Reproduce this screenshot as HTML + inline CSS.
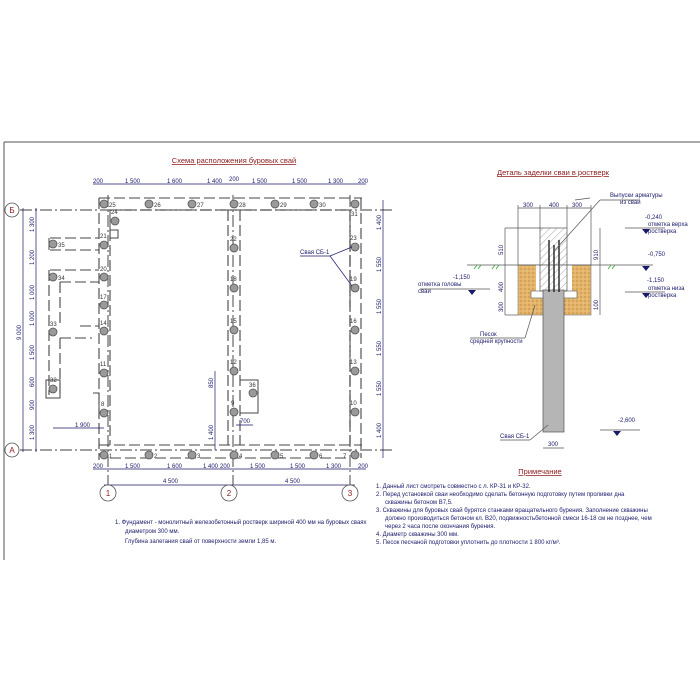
<!DOCTYPE html>
<html><head><meta charset="utf-8"><style>
body{margin:0;background:#fff;}
svg{display:block;font-family:"Liberation Sans",sans-serif;}
.t{font-size:6px;fill:#333;}
.n{font-size:6.5px;fill:#222;}
.b{font-size:6px;fill:#1a1a6a;}
</style></head><body>
<svg width="700" height="700" viewBox="0 0 700 700" xmlns="http://www.w3.org/2000/svg">
<defs>
<pattern id="h" width="5" height="5" patternUnits="userSpaceOnUse" patternTransform="rotate(45)"><line x1="0" y1="0" x2="0" y2="5" stroke="#666" stroke-width="0.6"/></pattern>
<pattern id="s" width="4" height="4" patternUnits="userSpaceOnUse"><rect width="4" height="4" fill="#e3b46a"/><circle cx="1" cy="1" r="0.6" fill="#b07a2a"/><circle cx="3" cy="3" r="0.5" fill="#f5dca8"/></pattern>
</defs>
<rect width="700" height="700" fill="#fff"/>
<!-- border -->
<line x1="4" y1="142" x2="700" y2="142" stroke="#555" stroke-width="1"/>
<line x1="4" y1="142" x2="4" y2="560" stroke="#555" stroke-width="1"/>
<!-- plan title -->
<text x="234" y="163" font-size="7.5" fill="#8b1a1a" text-anchor="middle" text-decoration="underline">Схема расположения буровых свай</text>
<!-- axes -->
<g stroke="#666" stroke-width="1.2" stroke-dasharray="12,3,2,3" fill="none">
<line x1="20" y1="210" x2="395" y2="210"/>
<line x1="20" y1="450" x2="395" y2="450"/>
<line x1="108" y1="195" x2="108" y2="485"/>
<line x1="233" y1="195" x2="233" y2="485"/>
<line x1="350" y1="195" x2="350" y2="485"/>
</g>
<!-- walls -->
<g stroke="#444" stroke-width="1.1" stroke-dasharray="11,4" fill="none">
<line x1="99" y1="198" x2="362" y2="198"/>
<line x1="110" y1="210" x2="350" y2="210"/>
<line x1="99" y1="445" x2="362" y2="445"/>
<line x1="110" y1="458" x2="350" y2="458"/>
<line x1="99" y1="198" x2="99" y2="460"/>
<line x1="110" y1="230" x2="110" y2="445"/>
<line x1="228" y1="210" x2="228" y2="445"/>
<line x1="240" y1="210" x2="240" y2="445"/>
<line x1="350" y1="210" x2="350" y2="445"/>
<line x1="361" y1="198" x2="361" y2="458"/>
<line x1="50" y1="238" x2="99" y2="238"/>
<line x1="50" y1="250" x2="99" y2="250"/>
<line x1="50" y1="270" x2="99" y2="270"/>
<line x1="60" y1="282" x2="99" y2="282"/>
<line x1="49" y1="270" x2="49" y2="395"/>
<line x1="60" y1="282" x2="60" y2="326"/>
<line x1="60" y1="338" x2="60" y2="395"/>
<line x1="80" y1="326" x2="99" y2="326"/>
<line x1="60" y1="338" x2="92" y2="338"/>
</g>
<g stroke="#444" stroke-width="1" fill="none">
<path d="M49 238 v12"/><path d="M110 210 v20 h8 v8 h-8"/>
<path d="M92 338 v0"/><path d="M93 393 h6 v20"/>
<path d="M240 380 h18 v33 h-18"/>
<rect x="46" y="380" width="14" height="18"/>
</g>
<!-- piles -->
<g fill="#9a9a9a" stroke="#555" stroke-width="0.8">
<circle cx="104" cy="204" r="4"/><circle cx="149" cy="204" r="4"/><circle cx="192" cy="204" r="4"/><circle cx="234" cy="204" r="4"/><circle cx="275" cy="204" r="4"/><circle cx="314" cy="204" r="4"/><circle cx="355" cy="204" r="4"/>
<circle cx="104" cy="455" r="4"/><circle cx="149" cy="455" r="4"/><circle cx="192" cy="455" r="4"/><circle cx="234" cy="455" r="4"/><circle cx="275" cy="455" r="4"/><circle cx="314" cy="455" r="4"/><circle cx="355" cy="455" r="4"/>
<circle cx="104" cy="245" r="4"/><circle cx="104" cy="277" r="4"/><circle cx="104" cy="305" r="4"/><circle cx="104" cy="331" r="4"/><circle cx="104" cy="373" r="4"/><circle cx="104" cy="413" r="4"/>
<circle cx="234" cy="248" r="4"/><circle cx="234" cy="288" r="4"/><circle cx="234" cy="330" r="4"/><circle cx="234" cy="371" r="4"/><circle cx="234" cy="412" r="4"/><circle cx="253" cy="393" r="4"/>
<circle cx="355" cy="247" r="4"/><circle cx="355" cy="288" r="4"/><circle cx="355" cy="330" r="4"/><circle cx="355" cy="371" r="4"/><circle cx="355" cy="412" r="4"/>
<circle cx="53" cy="244" r="4"/><circle cx="53" cy="277" r="4"/><circle cx="53" cy="332" r="4"/><circle cx="53" cy="389" r="4"/><circle cx="115" cy="221" r="4"/>
</g>
<g class="t">
<text x="109" y="207">25</text><text x="154" y="207">26</text><text x="197" y="207">27</text><text x="239" y="207">28</text><text x="280" y="207">29</text><text x="319" y="207">30</text><text x="351" y="216">31</text>
<text x="109" y="458">1</text><text x="154" y="458">2</text><text x="197" y="458">3</text><text x="239" y="458">4</text><text x="280" y="458">5</text><text x="319" y="458">6</text><text x="343" y="458">7</text>
<text x="100" y="238">21</text><text x="100" y="271">20</text><text x="100" y="299">17</text><text x="100" y="325">14</text><text x="100" y="366">11</text><text x="101" y="406">8</text>
<text x="230" y="241">22</text><text x="230" y="281">18</text><text x="230" y="323">15</text><text x="230" y="364">12</text><text x="231" y="405">9</text><text x="249" y="387">36</text>
<text x="350" y="240">23</text><text x="350" y="281">19</text><text x="350" y="323">16</text><text x="350" y="364">13</text><text x="350" y="405">10</text>
<text x="58" y="247">35</text><text x="58" y="280">34</text><text x="50" y="326">33</text><text x="50" y="382">32</text><text x="111" y="214">24</text>
</g>
<!-- dims top/bottom -->
<g stroke="#1a1a6a" stroke-width="0.7">
<line x1="93" y1="184" x2="366" y2="184"/><line x1="93" y1="469" x2="366" y2="469"/><line x1="104" y1="485" x2="355" y2="485"/>
<line x1="23" y1="208" x2="23" y2="452"/><line x1="36" y1="208" x2="36" y2="452"/><line x1="383" y1="200" x2="383" y2="458"/>
<line x1="53" y1="428" x2="104" y2="428"/><line x1="236" y1="425" x2="253" y2="425"/><line x1="215" y1="371" x2="215" y2="450"/>
<line x1="300" y1="256" x2="330" y2="256"/><line x1="330" y1="256" x2="352" y2="247"/><line x1="330" y1="256" x2="352" y2="286"/>
</g>
<g class="b">
<text x="93" y="183">200</text><text x="125" y="183">1 500</text><text x="167" y="183">1 600</text><text x="207" y="183">1 400</text><text x="229" y="181">200</text><text x="252" y="183">1 500</text><text x="292" y="183">1 500</text><text x="328" y="183">1 300</text><text x="358" y="183">200</text>
<text x="93" y="468">200</text><text x="125" y="468">1 500</text><text x="167" y="468">1 600</text><text x="203" y="468">1 400</text><text x="220" y="468">200</text><text x="250" y="468">1 500</text><text x="290" y="468">1 500</text><text x="326" y="468">1 300</text><text x="358" y="468">200</text>
<text x="163" y="483">4 500</text><text x="285" y="483">4 500</text><text x="75" y="427">1 900</text><text x="240" y="423">700</text><text x="300" y="254">Свая СБ-1</text>
<text transform="translate(21,340) rotate(-90)">9 000</text>
<text transform="translate(34,232) rotate(-90)">1 300</text><text transform="translate(34,265) rotate(-90)">1 200</text><text transform="translate(34,300) rotate(-90)">1 000</text><text transform="translate(34,326) rotate(-90)">1 000</text><text transform="translate(34,360) rotate(-90)">1 500</text><text transform="translate(34,387) rotate(-90)">600</text><text transform="translate(34,410) rotate(-90)">900</text><text transform="translate(34,440) rotate(-90)">1 300</text>
<text transform="translate(381,230) rotate(-90)">1 400</text><text transform="translate(381,272) rotate(-90)">1 550</text><text transform="translate(381,314) rotate(-90)">1 550</text><text transform="translate(381,356) rotate(-90)">1 550</text><text transform="translate(381,396) rotate(-90)">1 550</text><text transform="translate(381,438) rotate(-90)">1 400</text>
<text transform="translate(213,440) rotate(-90)">1 400</text><text transform="translate(213,388) rotate(-90)">850</text>
</g>
<!-- axis circles -->
<g fill="#fff" stroke="#555" stroke-width="0.8">
<circle cx="12" cy="210" r="7"/><circle cx="12" cy="450" r="7"/><circle cx="108" cy="493" r="8"/><circle cx="229" cy="493" r="8"/><circle cx="350" cy="493" r="8"/>
</g>
<g font-size="8" fill="#8b1a1a" text-anchor="middle">
<text x="12" y="213">Б</text><text x="12" y="453">А</text><text x="108" y="496">1</text><text x="229" y="496">2</text><text x="350" y="496">3</text>
</g>
<!-- plan note -->
<g class="b" font-size="6.3">
<text x="115" y="524">1. Фундамент - монолитный железобетонный ростверк шириной 400 мм на буровых сваях</text>
<text x="125" y="533">диаметром 300 мм.</text>
<text x="125" y="543">Глубина залегания свай от поверхности земли 1,85 м.</text>
</g>
<!-- detail -->
<text x="553" y="175" font-size="7.5" fill="#8b1a1a" text-anchor="middle" text-decoration="underline">Деталь заделки сваи в ростверк</text>
<rect x="518" y="265" width="73" height="50" fill="url(#s)" stroke="#777" stroke-width="0.6"/>
<rect x="536" y="265" width="36" height="33" fill="#fff"/>
<rect x="531" y="291" width="46" height="7" fill="#fff" stroke="#555" stroke-width="0.6"/>
<rect x="540" y="228" width="27" height="63" fill="url(#h)" stroke="#555" stroke-width="0.7"/>
<rect x="543" y="290" width="21" height="142" fill="#b5b5b5" stroke="#555" stroke-width="0.7"/>
<g stroke="#222" stroke-width="1.4"><line x1="549" y1="240" x2="549" y2="292"/><line x1="554" y1="245" x2="554" y2="292"/><line x1="559" y1="240" x2="559" y2="292"/></g>
<g stroke="#555" stroke-width="0.7">
<line x1="467" y1="265" x2="653" y2="265"/>
<line x1="518" y1="208" x2="591" y2="208"/><line x1="518" y1="205" x2="518" y2="265"/><line x1="540" y1="205" x2="540" y2="228"/><line x1="567" y1="205" x2="567" y2="228"/><line x1="591" y1="205" x2="591" y2="265"/>
<line x1="505" y1="228" x2="540" y2="228"/><line x1="505" y1="228" x2="505" y2="315"/><line x1="505" y1="315" x2="518" y2="315"/><line x1="600" y1="228" x2="600" y2="315"/>
<line x1="575" y1="200" x2="590" y2="198" /><line x1="555" y1="250" x2="600" y2="200"/><line x1="600" y1="200" x2="640" y2="200"/>
<line x1="625" y1="228" x2="665" y2="228"/><line x1="625" y1="292" x2="665" y2="292"/><line x1="420" y1="289" x2="490" y2="289"/><line x1="600" y1="430" x2="640" y2="430"/>
<line x1="470" y1="338" x2="525" y2="338"/><line x1="525" y1="338" x2="535" y2="305"/>
<line x1="500" y1="440" x2="530" y2="440"/><line x1="530" y1="440" x2="548" y2="425"/>
<line x1="543" y1="448" x2="564" y2="448"/>
</g>
<g fill="#1a1a6a">
<path d="M642 229 l4 5 l4 -5z"/><path d="M642 266 l4 5 l4 -5z"/><path d="M642 293 l4 5 l4 -5z"/><path d="M468 290 l4 5 l4 -5z"/><path d="M613 431 l4 5 l4 -5z"/>
</g>
<g stroke="#3a3" stroke-width="0.8"><path d="M474 269 l3 -4 M478 269 l3 -4 M492 269 l3 -4 M496 269 l3 -4 M608 269 l3 -4 M612 269 l3 -4"/></g>
<g class="b" font-size="5.8">
<text x="523" y="207">300</text><text x="549" y="207">400</text><text x="572" y="207">300</text>
<text x="610" y="197">Выпуски арматуры</text><text x="620" y="204">из сваи</text>
<text x="645" y="219">-0,240</text><text x="648" y="226">отметка верха</text><text x="648" y="233">ростверка</text>
<text x="648" y="256">-0,750</text>
<text x="647" y="282">-1,150</text><text x="648" y="290">отметка низа</text><text x="648" y="297">ростверка</text>
<text x="453" y="279">-1,150</text><text x="418" y="286">отметка головы</text><text x="418" y="293">сваи</text>
<text x="480" y="336">Песок</text><text x="470" y="343">средней крупности</text>
<text x="500" y="438">Свая СБ-1</text><text x="548" y="446">300</text><text x="618" y="422">-2,600</text>
<text transform="translate(503,255) rotate(-90)">510</text><text transform="translate(503,292) rotate(-90)">400</text><text transform="translate(503,312) rotate(-90)">300</text><text transform="translate(598,260) rotate(-90)">910</text><text transform="translate(598,310) rotate(-90)">100</text>
</g>
<!-- notes -->
<text x="540" y="474" font-size="7.5" fill="#8b1a1a" text-anchor="middle" text-decoration="underline">Примечание</text>
<g class="b" font-size="5.9">
<text x="376" y="488">1. Данный лист смотреть совместно с л. КР-31 и КР-32.</text>
<text x="376" y="496">2. Перед установкой сваи необходимо сделать бетонную подготовку путем проливки дна</text>
<text x="385" y="504">скважины бетоном В7,5.</text>
<text x="376" y="512">3. Скважины для буровых свай бурятся станками вращательного бурения. Заполнение скважины</text>
<text x="385" y="520">должно производиться бетоном кл. В20, подвижностьбетонной смеси 16-18 см не позднее, чем</text>
<text x="385" y="528">через 2 часа после окончания бурения.</text>
<text x="376" y="536">4. Диаметр скважины 300 мм.</text>
<text x="376" y="544">5. Песок песчаной подготовки уплотнить до плотности 1 800 кг/м³.</text>
</g>
</svg>
</body></html>
